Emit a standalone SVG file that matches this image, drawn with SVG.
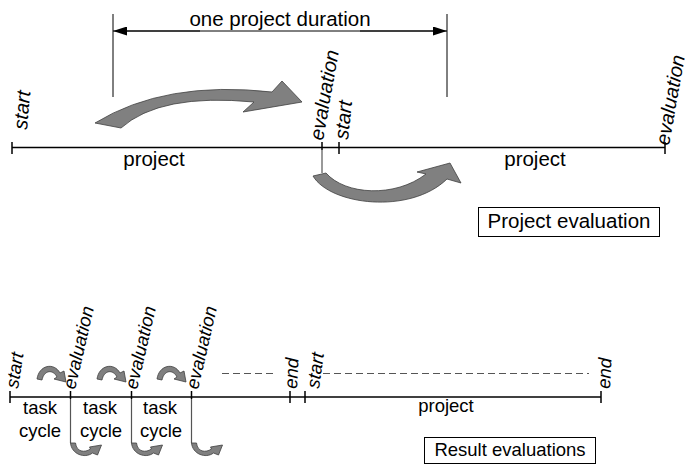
<svg xmlns="http://www.w3.org/2000/svg" width="689" height="466" viewBox="0 0 689 466">
<defs>
<style>
text{font-family:"Liberation Sans",Arial,sans-serif;fill:#000}
.t20{font-size:20.5px}
.t18{font-size:18.5px}
.rot{font-style:italic}
.r20{font-size:20px}
.mid{text-anchor:middle}
.line{stroke:#000;stroke-width:1.5;fill:none}
.thin{stroke:#000;stroke-width:1;fill:none}
.drop{stroke:#555;stroke-width:1.2;fill:none}
.dash{stroke:#555;stroke-width:1.2;fill:none;stroke-dasharray:7,4}
.arr{fill:#808080;stroke:#404040;stroke-width:0.8;stroke-linejoin:round}
.box{fill:#fff;stroke:#000;stroke-width:1}
</style>
<marker id="ah" viewBox="0 0 14 9" refX="14" refY="4.5" markerWidth="14" markerHeight="9" markerUnits="userSpaceOnUse" orient="auto">
<path d="M0,0 L14,4.5 L0,9 Z" fill="#000"/>
</marker>
<path id="sa" d="M0,0 C2,-14 17,-17 23,-6 L27,-8 L29,3 L17,0 L20,-2 C16,-10 7,-9 5,1 Z"/>
<path id="sb" d="M0,0 C1,11 14,16 22,10 L27,12 L31,2 L19,4 L20,6 C14,10 6,9 5,0 Z"/>
</defs>

<g id="duration">
<line class="thin" x1="113" y1="14" x2="113" y2="97"/>
<line class="thin" x1="447" y1="14" x2="447" y2="97"/>
<line class="thin" x1="120" y1="31" x2="440" y2="31"/>
<line class="thin" x1="200" y1="31" x2="113" y2="31" marker-end="url(#ah)"/>
<line class="thin" x1="360" y1="31" x2="447" y2="31" marker-end="url(#ah)"/>
<text class="t20 mid" x="280" y="25.5">one project duration</text>
</g>

<g id="top-timeline">
<line class="line" x1="12" y1="147.5" x2="665" y2="147.5"/>
<line class="line" x1="12" y1="142" x2="12" y2="154"/>
<line class="line" x1="322" y1="142" x2="322" y2="150"/>
<line class="drop" x1="322" y1="150" x2="322" y2="173"/>
<line class="line" x1="339" y1="142" x2="339" y2="154"/>
<line class="line" x1="665" y1="142" x2="665" y2="154"/>
<text class="t20 mid" x="154" y="166">project</text>
<text class="t20 mid" x="535" y="166">project</text>
<text class="rot r20" transform="translate(27,130) rotate(-85)">start</text>
<text class="rot r20" transform="translate(323,141) rotate(-80)">evaluation</text>
<text class="rot r20" transform="translate(348,140) rotate(-84)">start</text>
<text class="rot r20" transform="translate(669,146) rotate(-80)">evaluation</text>
</g>

<g id="top-arrows">
<path class="arr" d="M95,123 Q165,80 272,92 L282,81 L302,102 L243,112 L254,102 Q160,93 121,128 Z"/>
<path class="arr" d="M313,176 C330,205 410,215 447,179 L461,183 L450,163 L417,172 L426,174 C395,198 345,195 326,173 Z"/>
</g>

<g id="project-evaluation">
<rect class="box" x="478.5" y="207.5" width="181" height="29"/>
<text class="t20 mid" x="569" y="228">Project evaluation</text>
</g>

<g id="bottom-timeline">
<line class="line" x1="10" y1="397" x2="601" y2="397"/>
<line class="line" x1="10" y1="391" x2="10" y2="403"/>
<line class="line" x1="70.5" y1="391" x2="70.5" y2="399"/>
<line class="line" x1="131.5" y1="391" x2="131.5" y2="399"/>
<line class="line" x1="191.5" y1="391" x2="191.5" y2="399"/>
<line class="line" x1="290" y1="391" x2="290" y2="403"/>
<line class="line" x1="305" y1="391" x2="305" y2="403"/>
<line class="line" x1="601" y1="391" x2="601" y2="403"/>
<line class="drop" x1="70.5" y1="399" x2="70.5" y2="443"/>
<line class="drop" x1="131.5" y1="399" x2="131.5" y2="443"/>
<line class="drop" x1="191.5" y1="399" x2="191.5" y2="443"/>
<line class="dash" x1="222" y1="373.5" x2="277" y2="373.5"/>
<line class="dash" x1="323" y1="373.5" x2="589" y2="373.5"/>
<text class="rot t18" transform="translate(18,389) rotate(-81)">start</text>
<text class="rot t18" transform="translate(75,390) rotate(-77)">evaluation</text>
<text class="rot t18" transform="translate(137,390) rotate(-77)">evaluation</text>
<text class="rot t18" transform="translate(198,390) rotate(-77)">evaluation</text>
<text class="rot t18" transform="translate(297,389) rotate(-87)">end</text>
<text class="rot t18" transform="translate(319,389) rotate(-82)">start</text>
<text class="rot t18" transform="translate(610,389) rotate(-87)">end</text>
<text class="t18 mid" x="40" y="414">task</text>
<text class="t18 mid" x="40" y="437">cycle</text>
<text class="t18 mid" x="100" y="414">task</text>
<text class="t18 mid" x="101" y="437">cycle</text>
<text class="t18 mid" x="160" y="414">task</text>
<text class="t18 mid" x="161" y="437">cycle</text>
<text class="t18 mid" x="446" y="412">project</text>
</g>

<g id="cycle-arrows">
<use href="#sa" class="arr" transform="translate(37,379)"/>
<use href="#sa" class="arr" transform="translate(97,379)"/>
<use href="#sa" class="arr" transform="translate(157,379)"/>
<use href="#sb" class="arr" transform="translate(70.5,443)"/>
<use href="#sb" class="arr" transform="translate(131.5,443)"/>
<use href="#sb" class="arr" transform="translate(191.5,443)"/>
</g>

<g id="result-evaluations">
<rect class="box" x="424.5" y="437.5" width="171" height="26"/>
<text class="t18 mid" x="510" y="456">Result evaluations</text>
</g>
</svg>
